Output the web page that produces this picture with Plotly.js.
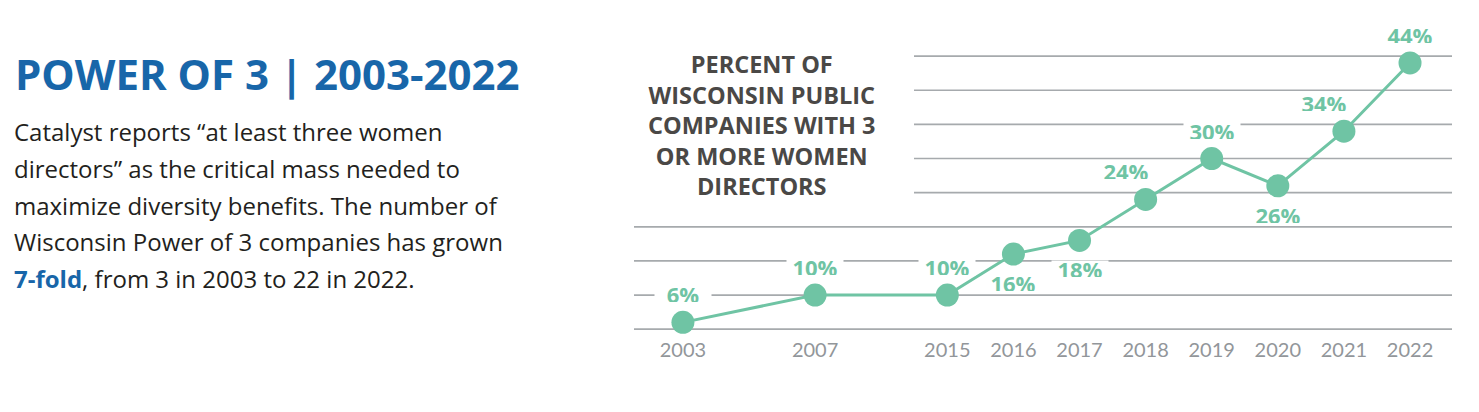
<!DOCTYPE html>
<html>
<head>
<meta charset="utf-8">
<script src="https://cdn.plot.ly/plotly-3.0.1.min.js"></script>
<style>
html,body{margin:0;padding:0;background:#fff;}
#chart{width:1479px;height:412px;}
</style>
</head>
<body>
<div id="chart"></div>
<script>
// ---- data ----
const years = ['2003','2007','2015','2016','2017','2018','2019','2020','2021','2022'];
const shares = [6, 10, 10, 16, 18, 24, 30, 26, 34, 44];
const gridValues = [5, 10, 15, 20, 25, 30, 35, 40, 45];
const chartTitleLines = ['PERCENT OF', 'WISCONSIN PUBLIC', 'COMPANIES WITH 3', 'OR MORE WOMEN', 'DIRECTORS'];
const heading = 'POWER OF 3 | 2003-2022';
const bodyLines = [
  'Catalyst reports \u201cat least three women',
  'directors\u201d as the critical mass needed to',
  'maximize diversity benefits. The number of',
  'Wisconsin Power of 3 companies has grown',
  '<b><span style="color:#1866a9">7-fold</span></b>, from 3 in 2003 to 22 in 2022.'
];

// ---- style / placement ----
const labelPlacement = ['up','up','up','down','down','upleft','up','down','upleft','up'];
const categoryOrder = ['2003',' ','2007','  ','2015','2016','2017','2018','2019','2020','2021','2022'];

const GREEN = '#6fc4a4';
const GRID = '#a6aaad';
const FONT = '"Open Sans", Lato, sans-serif';
const W = 1479, H = 412;
const L = 634, R = 1452, T = 21.5, B = 336.1;
const px = x => (x - L) / (R - L);
const py = y => (B - y) / (B - T);

const trace = {
  x: years, y: shares, type: 'scatter', mode: 'lines+markers',
  line: {color: GREEN, width: 3},
  marker: {color: GREEN, size: 23},
  hoverinfo: 'skip', cliponaxis: false
};

const shapes = gridValues.map(v => ({
  type: 'line', xref: 'paper', yref: 'y', layer: 'below',
  x0: v >= 25 ? px(914) : 0, x1: 1, y0: v, y1: v,
  line: {color: GRID, width: 1.7}
}));

const annotations = [];
years.forEach((yr, i) => {
  const p = labelPlacement[i];
  annotations.push({
    x: categoryOrder.indexOf(yr), y: shares[i], xref: 'x', yref: 'y',
    text: '<b>' + shares[i] + '%</b>', showarrow: false,
    xanchor: 'center', yanchor: 'middle',
    xshift: p === 'upleft' ? -20 : 0,
    yshift: p === 'down' ? -29 : 28,
    font: {family: FONT, size: 22, color: GREEN},
    bgcolor: '#ffffff', borderpad: 0, height: 16, width: 56
  });
});
annotations.push({
  x: px(762), y: py(125), xref: 'paper', yref: 'paper',
  xanchor: 'center', yanchor: 'middle', showarrow: false, align: 'center',
  text: '<b>' + chartTitleLines.join('<br>') + '</b>',
  font: {family: FONT, size: 23.5, color: '#4a4846'}
});
annotations.push({
  x: px(13), y: py(73), xref: 'paper', yref: 'paper',
  xanchor: 'left', yanchor: 'middle', showarrow: false,
  text: '<b>' + heading + '</b>',
  font: {family: FONT, size: 42, color: '#1866a9'}
});
bodyLines.forEach((t, i) => {
  annotations.push({
    x: px(12), y: py(131.7 + i * 36.65), xref: 'paper', yref: 'paper',
    xanchor: 'left', yanchor: 'middle', showarrow: false, align: 'left',
    text: t,
    font: {family: FONT, size: 24, color: '#231f20'}
  });
});

const layout = {
  width: W, height: H,
  margin: {l: L, r: W - R, t: T, b: H - B, pad: 0},
  paper_bgcolor: '#ffffff', plot_bgcolor: '#ffffff',
  showlegend: false,
  xaxis: {
    type: 'category', categoryorder: 'array', categoryarray: categoryOrder,
    range: [-0.74, 11.635], showgrid: false, zeroline: false, showline: false,
    tickvals: years, ticktext: years, ticks: '',
    tickfont: {family: 'Lato, sans-serif', size: 20, color: '#92969a'},
    fixedrange: true
  },
  yaxis: {
    range: [4, 50], showgrid: false, zeroline: false, showline: false,
    showticklabels: false, ticks: '', fixedrange: true
  },
  shapes: shapes,
  annotations: annotations
};

Plotly.newPlot('chart', [trace], layout, {displayModeBar: false, staticPlot: true});
</script>
</body>
</html>
